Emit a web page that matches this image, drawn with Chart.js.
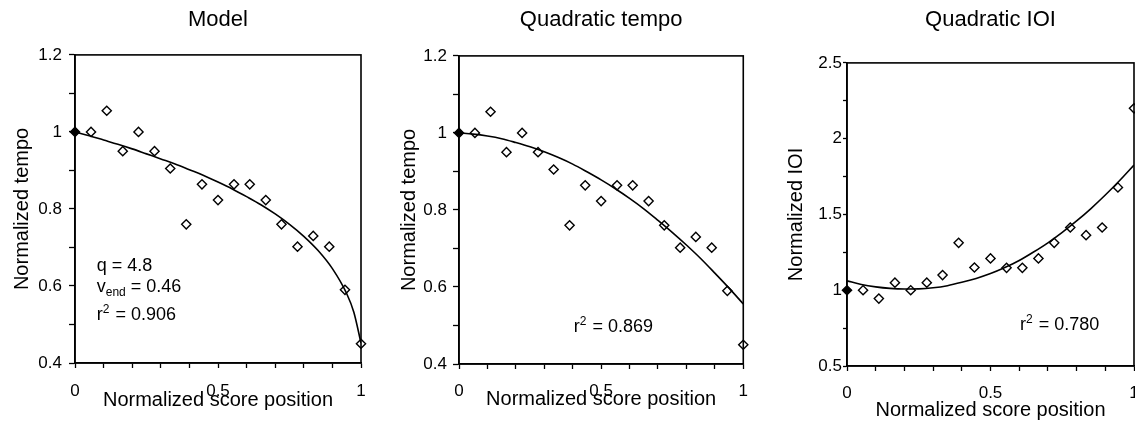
<!DOCTYPE html>
<html>
<head>
<meta charset="utf-8">
<script src="https://cdn.jsdelivr.net/npm/chart.js@4.4.0/dist/chart.umd.min.js"></script>
<style>
html,body{margin:0;padding:0;background:#fff;overflow:hidden;width:1135px;height:423px;position:relative;}
.p{position:absolute;top:0;height:423px;}
</style>
</head>
<body>
<div class="p" style="left:0;width:380px"><canvas id="c1"></canvas></div>
<div class="p" style="left:380px;width:380px"><canvas id="c2"></canvas></div>
<div class="p" style="left:760px;width:400px"><canvas id="c3"></canvas></div>
<script>
// ---------------- data ----------------
const scorePos = [0, 0.056, 0.111, 0.167, 0.222, 0.278, 0.333, 0.389, 0.444, 0.5, 0.556, 0.611, 0.667, 0.722, 0.778, 0.833, 0.889, 0.944, 1];
const tempo = [1.0, 1.0, 1.055, 0.95, 1.0, 0.95, 0.905, 0.76, 0.864, 0.823, 0.864, 0.864, 0.823, 0.76, 0.702, 0.73, 0.702, 0.59, 0.45];
const ioi = [1.0, 1.0, 0.945, 1.05, 1.0, 1.05, 1.10, 1.313, 1.15, 1.21, 1.148, 1.148, 1.21, 1.313, 1.414, 1.363, 1.414, 1.678, 2.20];

const modelX = [0, 0.05, 0.1, 0.15, 0.2, 0.25, 0.3, 0.35, 0.4, 0.45, 0.5, 0.55, 0.6, 0.65, 0.7, 0.75, 0.8, 0.85, 0.9, 0.95, 0.975, 1];
const modelY = [1.0, 0.990, 0.979, 0.968, 0.956, 0.943, 0.930, 0.917, 0.902, 0.887, 0.870, 0.852, 0.832, 0.811, 0.787, 0.760, 0.729, 0.692, 0.645, 0.580, 0.532, 0.452];

const quadX = [0, 0.05, 0.1, 0.15, 0.2, 0.25, 0.3, 0.35, 0.4, 0.45, 0.5, 0.55, 0.6, 0.65, 0.7, 0.75, 0.8, 0.85, 0.9, 0.95, 1];
const quadTempoY = [1.0, 0.997, 0.992, 0.985, 0.975, 0.964, 0.951, 0.936, 0.919, 0.899, 0.878, 0.855, 0.830, 0.803, 0.773, 0.742, 0.709, 0.674, 0.636, 0.597, 0.556];
const quadIoiY = [1.062, 1.038, 1.022, 1.012, 1.008, 1.009, 1.016, 1.030, 1.052, 1.078, 1.110, 1.150, 1.196, 1.252, 1.313, 1.382, 1.457, 1.539, 1.628, 1.724, 1.826];

const panelTitles = ['Model', 'Quadratic tempo', 'Quadratic IOI'];
const yTitles = ['Normalized tempo', 'Normalized tempo', 'Normalized IOI'];
const xTitle = 'Normalized score position';
const xTickLabels = [0, 0.5, 1];
const tempoTickLabels = [0.4, 0.6, 0.8, 1, 1.2];
const ioiTickLabels = [0.5, 1, 1.5, 2, 2.5];

const modelNote = [
  [{t: 'q = 4.8'}],
  [{t: 'v'}, {t: 'end', sub: true}, {t: ' = 0.46'}],
  [{t: 'r'}, {t: '2', sup: true}, {t: ' = 0.906'}]
];
const quadTempoNote = [[{t: 'r'}, {t: '2', sup: true}, {t: ' = 0.869'}]];
const quadIoiNote = [[{t: 'r'}, {t: '2', sup: true}, {t: ' = 0.780'}]];

// ---------------- drawing ----------------
const FONT = "'Liberation Sans', Arial, Helvetica, sans-serif";
const near = (v, list) => list.some(t => Math.abs(t - v) < 1e-6);
const fmt = v => String(+v.toFixed(2));

const framePlugin = {
  id: 'frame',
  afterDraw(chart) {
    const a = chart.chartArea, ctx = chart.ctx;
    ctx.save();
    ctx.strokeStyle = '#000';
    ctx.lineWidth = 1.6;
    ctx.strokeRect(a.left, a.top, a.right - a.left, a.bottom - a.top);
    ctx.restore();
  }
};

const notesPlugin = {
  id: 'notes',
  afterDatasetsDraw(chart, args, opts) {
    if (!opts || !opts.lines) return;
    const ctx = chart.ctx;
    const xs = chart.scales.x, ys = chart.scales.y;
    ctx.save();
    ctx.fillStyle = '#000';
    ctx.textBaseline = 'alphabetic';
    ctx.textAlign = 'left';
    opts.lines.forEach((parts, i) => {
      let x = xs.getPixelForValue(opts.x);
      const y = ys.getPixelForValue(opts.y[i]);
      parts.forEach(p => {
        let dy = 0;
        if (p.sub) { ctx.font = '12px ' + FONT; dy = 4; }
        else if (p.sup) { ctx.font = '12px ' + FONT; dy = -7; }
        else { ctx.font = '18px ' + FONT; }
        ctx.fillText(p.t, x, y + dy);
        x += ctx.measureText(p.t).width + (p.sup ? 1 : 0);
      });
    });
    ctx.restore();
  }
};

function makeChart(id, o) {
  const pts = scorePos.map((x, i) => ({x, y: o.values[i]}));
  const curve = o.curveX.map((x, i) => ({x, y: o.curveY[i]}));
  const fills = scorePos.map((x, i) => i === 0 ? '#000' : '#fff');
  return new Chart(document.getElementById(id), {
    type: 'scatter',
    data: {
      datasets: [
        {
          type: 'line', data: curve, showLine: true, borderColor: '#000', borderWidth: 1.6,
          pointRadius: 0, fill: false, cubicInterpolationMode: 'monotone'
        },
        {
          data: pts, pointStyle: 'rectRot', pointRadius: 4.6, pointBorderWidth: 1.4,
          pointBorderColor: '#000', pointBackgroundColor: fills, clip: false
        }
      ]
    },
    options: {
      responsive: true, maintainAspectRatio: false, animation: false, devicePixelRatio: 1,
      layout: {padding: {top: 0, left: 0, right: o.padR, bottom: 0}},
      plugins: {
        legend: {display: false}, tooltip: {enabled: false},
        title: {
          display: true, text: o.title, fullSize: false, color: '#000',
          font: {family: FONT, size: 22, weight: 'normal', lineHeight: 1.2},
          padding: {top: 6.5, bottom: o.titlePadBot}
        },
        notes: {lines: o.note, x: o.noteX, y: o.noteY}
      },
      scales: {
        x: {
          type: 'linear', min: 0, max: 1,
          afterFit: s => { s.height = o.xH; },
          border: {display: true, color: '#000', width: 1.6},
          grid: {display: true, drawOnChartArea: false, drawTicks: true, tickLength: 5, color: '#000', tickColor: '#000', tickWidth: 1.3},
          ticks: {
            stepSize: 0.1, color: '#000', padding: o.xTickPad, maxRotation: 0, autoSkip: false,
            font: {family: FONT, size: 17},
            callback: v => near(v, xTickLabels) ? fmt(v) : ''
          },
          title: {display: true, text: xTitle, color: '#000', font: {family: FONT, size: 20, lineHeight: 1.2},
                  padding: {top: 0, bottom: o.xTitlePadBot}}
        },
        y: {
          type: 'linear', min: o.yMin, max: o.yMax,
          afterFit: s => { s.width = o.yW; },
          border: {display: true, color: '#000', width: 1.6},
          grid: {display: true, drawOnChartArea: false, drawTicks: true, tickLength: o.yTickLen, color: '#000', tickColor: '#000', tickWidth: 1.3},
          ticks: {
            stepSize: o.yStep, color: '#000', padding: o.yTickPad, autoSkip: false,
            font: {family: FONT, size: 17},
            callback: v => near(v, o.yLabels) ? fmt(v) : ''
          },
          title: {display: true, text: o.yTitle, color: '#000', font: {family: FONT, size: 20, lineHeight: 1.2},
                  padding: {top: o.yTitlePad, bottom: 0}}
        }
      }
    },
    plugins: [framePlugin, notesPlugin]
  });
}

makeChart('c1', {
  title: panelTitles[0], yTitle: yTitles[0], yMin: 0.4, yMax: 1.2, yStep: 0.1, yLabels: tempoTickLabels,
  values: tempo, curveX: modelX, curveY: modelY,
  note: modelNote, noteX: 0.076, noteY: [0.640, 0.584, 0.512],
  padR: 19, titlePadBot: 22, xH: 60, yW: 75, yTickLen: 6, yTickPad: 7, xTickPad: 13, yTitlePad: 10, xTitlePadBot: 11
});
makeChart('c2', {
  title: panelTitles[1], yTitle: yTitles[1], yMin: 0.4, yMax: 1.2, yStep: 0.1, yLabels: tempoTickLabels,
  values: tempo, curveX: quadX, curveY: quadTempoY,
  note: quadTempoNote, noteX: 0.404, noteY: [0.484],
  padR: 9, titlePadBot: 23, xH: 59, yW: 79, yTickLen: 6, yTickPad: 6, xTickPad: 12, yTitlePad: 17, xTitlePadBot: 12
});
makeChart('c3', {
  title: panelTitles[2], yTitle: yTitles[2], yMin: 0.5, yMax: 2.5, yStep: 0.25, yLabels: ioiTickLabels,
  values: ioi, curveX: quadX, curveY: quadIoiY,
  note: quadIoiNote, noteX: 0.603, noteY: [0.738],
  padR: 26, titlePadBot: 30, xH: 57, yW: 87, yTickLen: 4, yTickPad: 1, xTickPad: 12, yTitlePad: 24, xTitlePadBot: 1
});
</script>
</body>
</html>
